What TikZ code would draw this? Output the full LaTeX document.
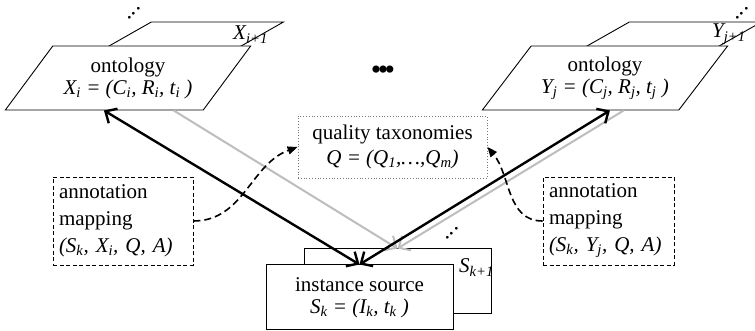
\documentclass[tikz,border=0pt]{standalone}
\usepackage{fontspec}
\setmainfont{Liberation Serif}
\usepackage{tikz}
\usetikzlibrary{shapes.geometric, arrows.meta, positioning, calc}
\definecolor{lightline}{RGB}{189, 189, 189}
\definecolor{dotframe}{RGB}{120, 120, 120}
\newcommand{\sub}[1]{\textsubscript{#1}}
\tikzset{
  font=\fontsize{21}{22}\selectfont,
  planeblock/.style={
    trapezium, trapezium left angle=48, trapezium right angle=132,
    trapezium stretches=true, draw, fill=white, line width=0.9pt,
    minimum width=246pt, minimum height=64pt, inner sep=2pt, align=center
  },
  sourceblock/.style={
    rectangle, draw, fill=white, line width=1pt,
    minimum width=187pt, minimum height=65pt, inner sep=0pt, align=center
  },
  qualityblock/.style={
    rectangle, draw=dotframe, dotted, line width=0.8pt, fill=white,
    minimum width=189pt, minimum height=62pt, inner sep=0pt, align=center,
    font=\fontsize{21}{25}\selectfont
  },
  mapblock/.style={
    rectangle, draw, dash pattern=on 4pt off 2.5pt, line width=0.9pt,
    minimum height=88pt, inner xsep=6pt, inner ysep=0pt, align=left,
    font=\fontsize{21}{27}\selectfont
  },
  tagtext/.style={anchor=base west, inner sep=0pt, font=\fontsize{21}{22}\selectfont\itshape},
  dotsmark/.style={rotate=45, anchor=base, inner sep=0pt, font=\fontsize{23}{23}\selectfont},
  flowline/.style={
    draw=black, line width=2.4pt,
    {Straight Barb[length=9pt, width=17pt]}-{Straight Barb[length=9pt, width=17pt]}
  },
  feedline/.style={
    draw=lightline, line width=2pt, -{Straight Barb[length=9pt, width=17pt]}
  },
  dashflow/.style={
    draw=black, line width=1.6pt, dash pattern=on 7pt off 4pt,
    -{Triangle[length=10pt, width=8pt]}
  }
}

\begin{document}
\begin{tikzpicture}[x=1pt, y=1pt]
  \useasboundingbox (0,0) rectangle (755,331);

  % Ontology stacks, back copies first
  \node[planeblock] (backL) at (161,277) {\strut};
  \node[planeblock] (ontoL) at (128,253) {\\[-6pt]ontology\\ \textit{X\sub{i} = (C\sub{i}, R\sub{i}, t\sub{i} )}};
  \node[tagtext] (tagL) at (233,291) {X\sub{i+1}};
  \node[dotsmark] (moreL) at (135,317) {...};

  \node[planeblock] (backR) at (639,277) {\strut};
  \node[planeblock] (ontoR) at (605,253) {\\[-6pt]ontology\\ \textit{Y\sub{j} = (C\sub{j}, R\sub{j}, t\sub{j} )}};
  \node[tagtext] (tagR) at (712,293) {Y\sub{j+1}};
  \node[dotsmark] (moreR) at (743,317) {...};

  \node[font=\fontsize{30}{30}\selectfont] (moreO) at (383,258) {\textbullet\kern-3.6pt\textbullet\kern-3.6pt\textbullet};

  % Quality taxonomies
  \node[qualityblock] (qual) at (392.5,184) {quality taxonomies\\ \textit{Q = (Q\sub{1},\ldots,Q\sub{m})}};

  % Instance sources
  \node[sourceblock] (srcback) at (397.5,49.5) {};
  \node[sourceblock] (src) at (359.5,33.5) {instance source\\ \textit{S\sub{k} = (I\sub{k}, t\sub{k} )}};
  \node[tagtext] (tagS) at (459,58) {S\sub{k+1}};
  \node[dotsmark] (moreS) at (453,97) {...};

  % Annotation mappings
  \node[mapblock, text width=128pt] (mapL) at (123,110) {annotation\\mapping\\\textit{(S\sub{k}, X\sub{i}, Q, A)}};
  \node[mapblock, text width=119pt] (mapR) at (608.5,110) {annotation\\mapping\\\textit{(S\sub{k}, Y\sub{j}, Q, A)}};

  % Feet of the connectors
  \coordinate (footL) at ($(ontoL.bottom left corner)!0.5!(ontoL.bottom right corner)$);
  \coordinate (feedL) at ($(ontoL.bottom left corner)!0.85!(ontoL.bottom right corner)$);
  \coordinate (footR) at ($(ontoR.bottom left corner)!0.65!(ontoR.bottom right corner)$);
  \coordinate (feedR) at ($(ontoR.bottom left corner)!0.72!(ontoR.bottom right corner)$);

  % Connecting flows
  \draw[feedline] (feedL) -- (srcback.north);
  \draw[feedline] (feedR) -- (srcback.north);
  \draw[flowline] (footL) -- (src.north);
  \draw[flowline] (footR) -- (src.north);

  \draw[dashflow] (mapL.east) to[out=0, in=200] (qual.west);
  \draw[dashflow] (mapR.west) to[out=180, in=-50] (qual.east);

\end{tikzpicture}
\end{document}
